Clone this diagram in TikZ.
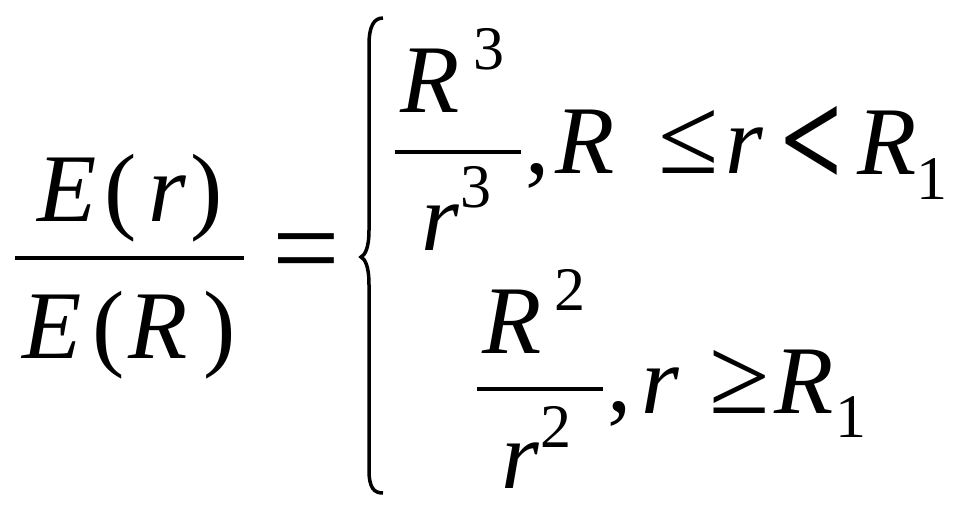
\documentclass[tikz,border=0pt]{standalone}
\usepackage{fontspec}
\usepackage{graphicx}
\setmainfont{Liberation Serif}
\newcommand\bigsz{\fontsize{97}{110}\selectfont}
\newcommand\smsz{\fontsize{62}{70}\selectfont}
\newcommand\relsz{\fontsize{110}{120}\selectfont}
\newcommand\eqsz{\fontsize{120}{130}\selectfont}
\tikzset{
  gl/.style={inner sep=0pt, outer sep=0pt, anchor=base, font=\bigsz},
  sc/.style={inner sep=0pt, outer sep=0pt, anchor=base, font=\smsz},
  rl/.style={inner sep=0pt, outer sep=0pt, anchor=base, font=\relsz},
  fbar/.style={line width=4pt},
}
\begin{document}
\begin{tikzpicture}[x=1pt,y=-1pt]
\useasboundingbox[fill=white] (0,0) rectangle (968,516);
% left fraction
\node[gl] (nE) at (67,221) {\textit{E}};
\node[gl] (nlp) at (121,221) {(};
\node[gl] (nr) at (168,221) {\textit{r}};
\node[gl] (nrp) at (207,221) {)};
\coordinate (b1l) at (15,258);
\coordinate (b1r) at (244,258);
\draw[fbar] (b1l) -- (b1r);
\node[gl] (dE) at (52,358) {\textit{E}};
\node[gl] (dlp) at (109,358) {(};
\node[gl] (dR) at (158,358) {\textit{R}};
\node[gl] (drp) at (220,358) {)};
% equals
\node[rl, font=\eqsz] (eq) at (306,288) {=};
% brace
\draw[line width=3.5pt] (383,18) .. controls (374,18) and (369,26) .. (369,45) -- (369,230)
  .. controls (369,248) and (365,255) .. (361,257)
  .. controls (365,259) and (369,266) .. (369,285) -- (369,470)
  .. controls (369,488) and (374,493) .. (383,493);
% top row
\node[gl] (tR) at (430,113) {\textit{R}};
\node[sc] (t3) at (489,70) {3};
\coordinate (b2l) at (395,152);
\coordinate (b2r) at (521,152);
\draw[fbar] (b2l) -- (b2r);
\node[gl] (tr) at (441,250) {\textit{r}};
\node[sc] (tr3) at (476,207) {3};
\node[gl] (tc) at (538,173) {,};
\node[gl] (tR2) at (585,173) {\textit{R}};
\node[rl] (tle) at (689,173) {≤};
\node[gl] (tr2) at (745,173) {\textit{r}};
\node[rl] (tlt) at (812,186) {\scalebox{1}[1.25]{\bfseries <}};
\node[gl] (tR3) at (887,174) {\textit{R}};
\node[sc] (t1) at (932,199) {1};
% bottom row
\node[gl] (bR) at (512,353) {\textit{R}};
\node[sc] (b2) at (570,310) {2};
\coordinate (b3l) at (477,389);
\coordinate (b3r) at (603,389);
\draw[fbar] (b3l) -- (b3r);
\node[gl] (br) at (521,488) {\textit{r}};
\node[sc] (br2) at (556,447) {2};
\node[gl] (bc) at (620,411) {,};
\node[gl] (br3) at (661,413) {\textit{r}};
\node[rl] (bge) at (740,413) {≥};
\node[gl] (bR2) at (804,413) {\textit{R}};
\node[sc] (b1) at (851,437) {1};
\end{tikzpicture}
\end{document}
